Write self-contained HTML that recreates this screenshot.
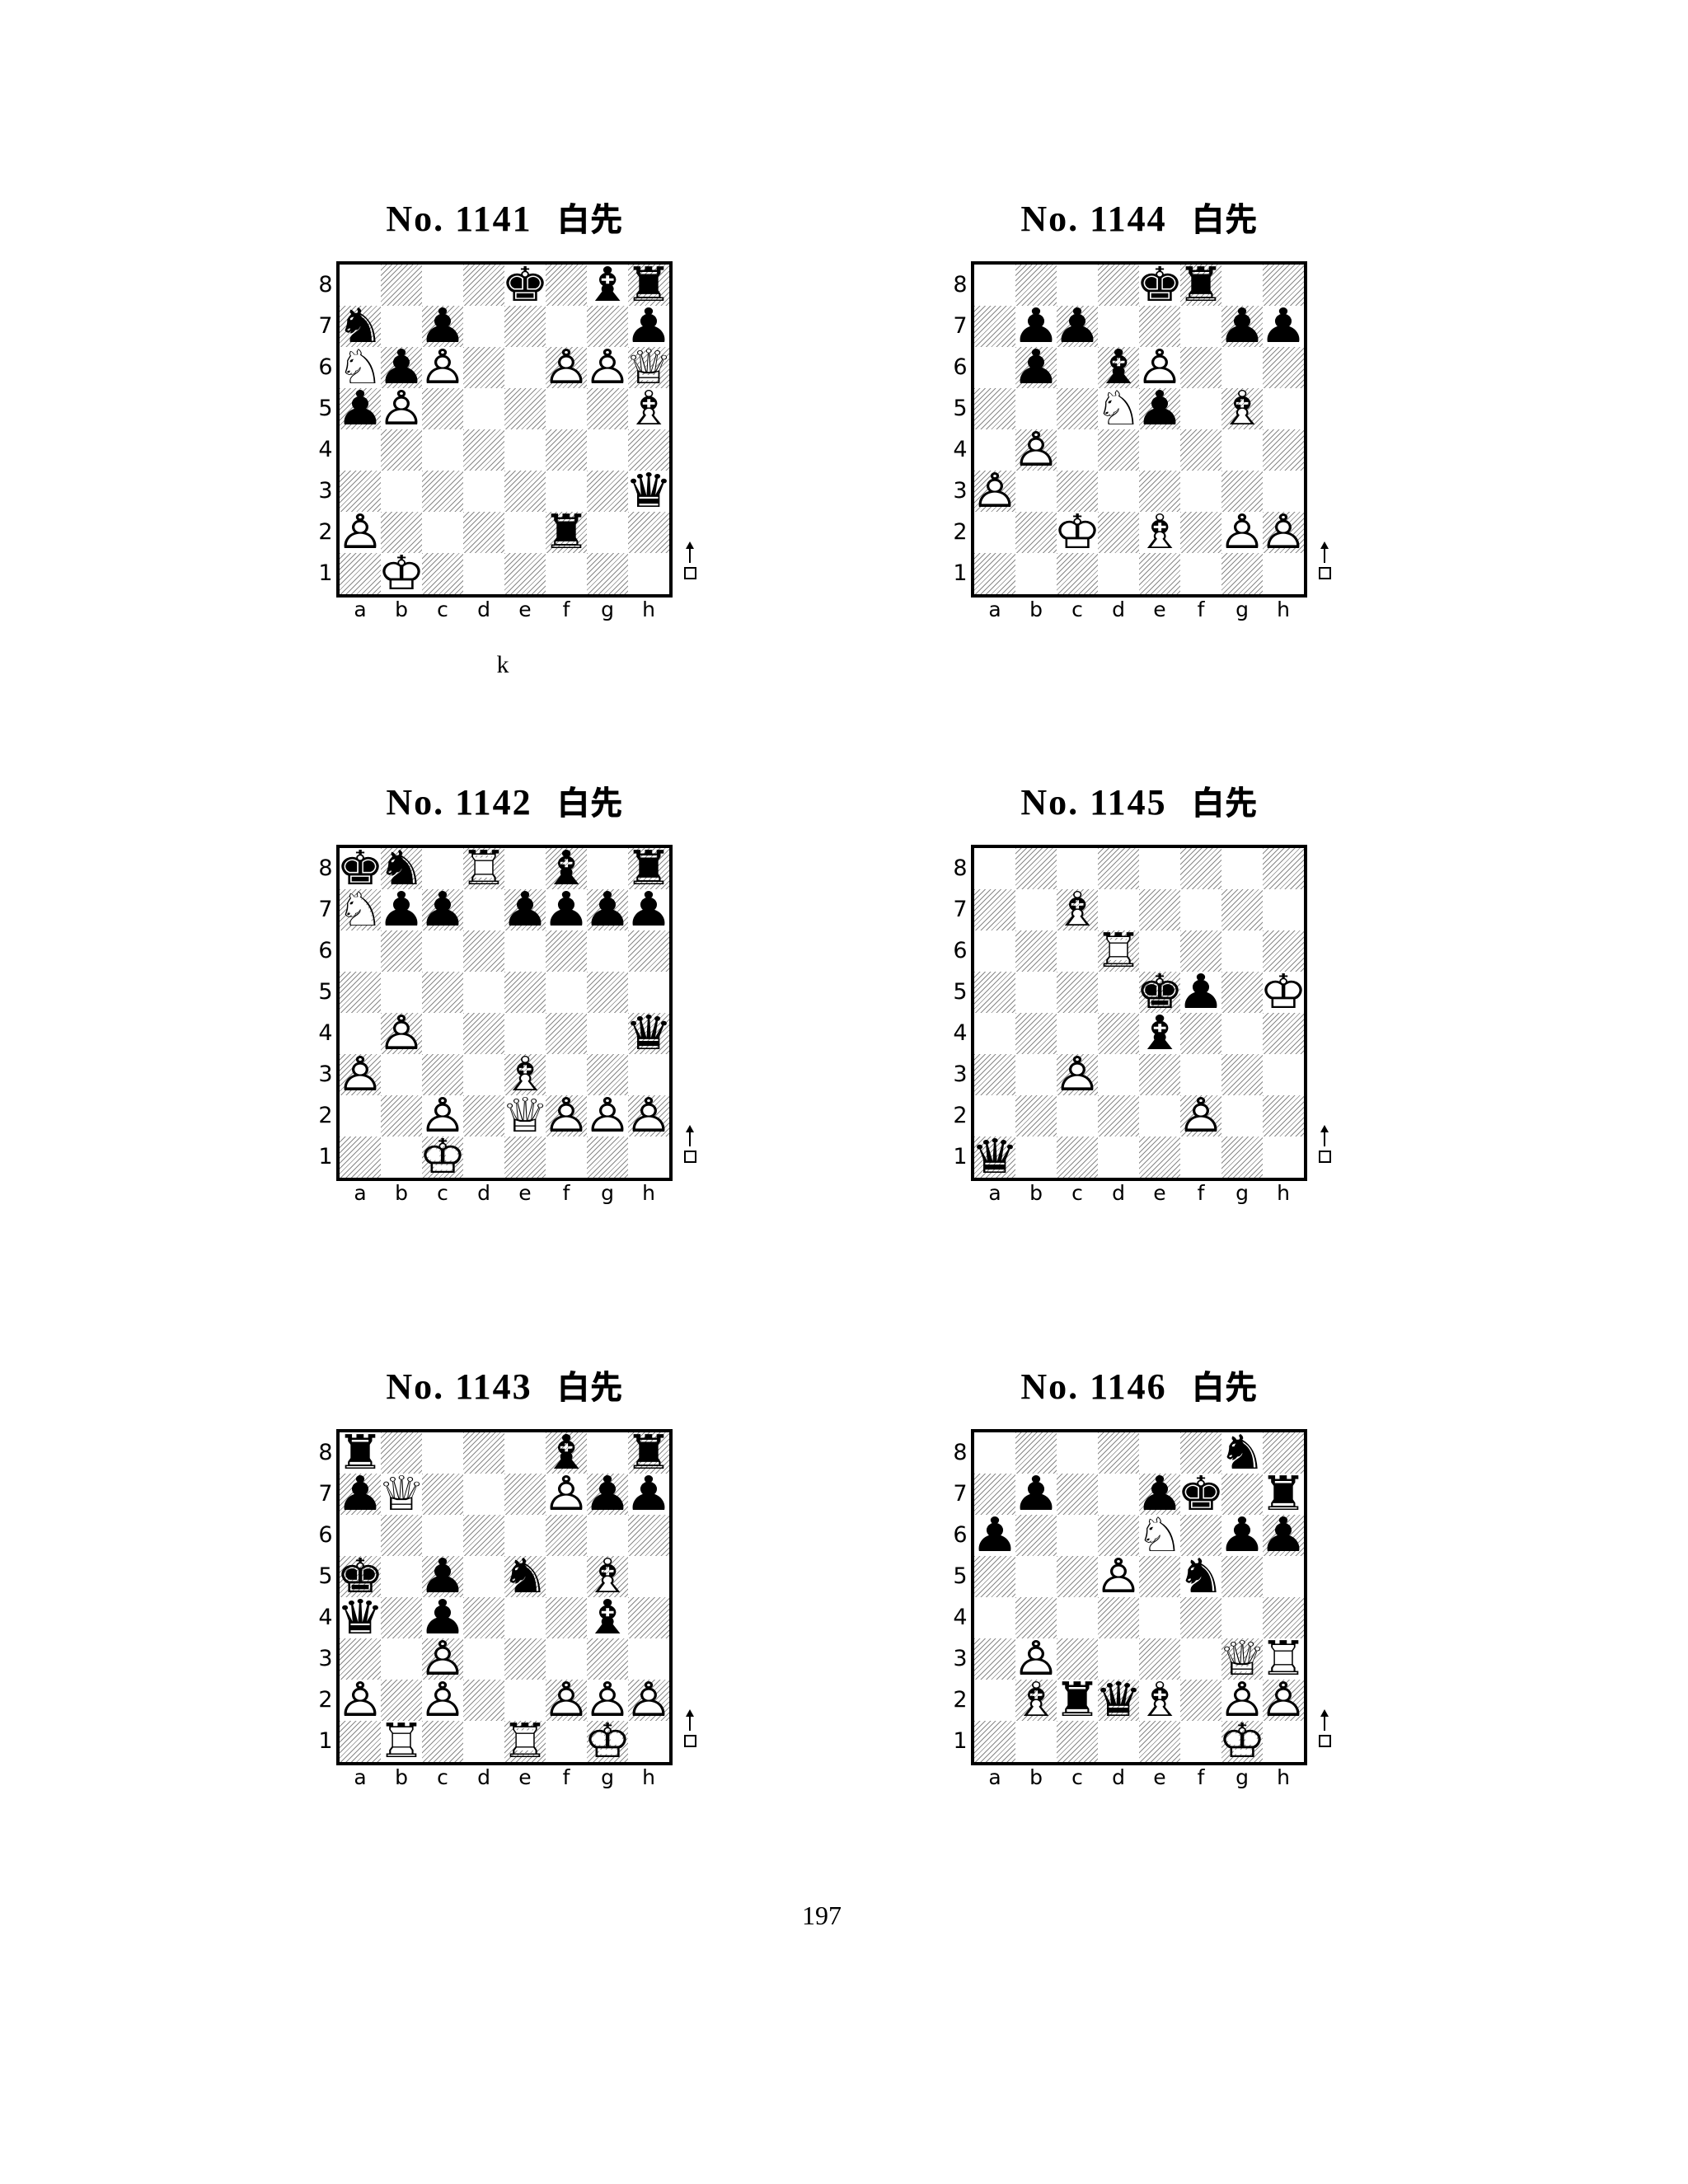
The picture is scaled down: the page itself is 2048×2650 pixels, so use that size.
<!DOCTYPE html>
<html><head><meta charset="utf-8">
<style>
body{margin:0;width:2048px;height:2650px;background:#fff;position:relative;overflow:hidden;font-family:"Liberation Serif",serif}
.t{position:absolute;width:600px;text-align:center;font:bold 44px "Liberation Serif","Noto Serif CJK SC",serif;line-height:48px;letter-spacing:2px}
.t span{font-family:"Noto Sans CJK SC",sans-serif;font-weight:bold;margin-left:30px;font-size:40px;letter-spacing:0}
.b{position:absolute;width:400px;height:400px;border:4px solid #000}
.sq{position:absolute;width:50px;height:50px}
.d{background:repeating-linear-gradient(-45deg,#fff 0 2.2px,#888 2.2px 3.2px,#fff 3.2px 4.5px)}
.p{position:absolute;width:50px;height:50px;text-align:center;line-height:50px;font-size:50px;font-family:"DejaVu Sans",sans-serif;transform:scale(1.3,1.15);transform-origin:50% 55%}
.p .f{position:absolute;left:-10px;right:-10px;top:0;color:#fff}
.p .o{position:absolute;left:-10px;right:-10px;top:0;color:#000}
.r{position:absolute;font:27px "DejaVu Sans","Liberation Sans",sans-serif;width:30px;text-align:center;line-height:50px}
.fl{position:absolute;font:25px "DejaVu Sans","Liberation Sans",sans-serif;width:50px;text-align:center;line-height:30px}
.ar{position:absolute;width:2px;background:#000}
.bx{position:absolute;width:11px;height:11px;border:2px solid #000}
</style></head><body>
<div id="root"></div>
<div style="position:absolute;left:590px;top:790px;width:40px;text-align:center;font-size:30px">k</div>
<div style="position:absolute;left:947px;top:2306px;width:100px;text-align:center;font-size:32px">197</div>
<script>
var boards=[
 {n:"1141",x:408,y:317,p:{e8:"k",g8:"b",h8:"r",a7:"n",c7:"p",h7:"p",a6:"N",b6:"p",c6:"P",f6:"P",g6:"P",h6:"Q",a5:"p",b5:"P",h5:"B",h3:"q",a2:"P",f2:"r",b1:"K"}},
 {n:"1144",x:1178,y:317,p:{e8:"k",f8:"r",b7:"p",c7:"p",g7:"p",h7:"p",b6:"p",d6:"b",e6:"P",d5:"N",e5:"p",g5:"B",b4:"P",a3:"P",c2:"K",e2:"B",g2:"P",h2:"P"}},
 {n:"1142",x:408,y:1025,p:{a8:"k",b8:"n",d8:"R",f8:"b",h8:"r",a7:"N",b7:"p",c7:"p",e7:"p",f7:"p",g7:"p",h7:"p",b4:"P",h4:"q",a3:"P",e3:"B",c2:"P",e2:"Q",f2:"P",g2:"P",h2:"P",c1:"K"}},
 {n:"1145",x:1178,y:1025,p:{c7:"B",d6:"R",e5:"k",f5:"p",h5:"K",e4:"b",c3:"P",f2:"P",a1:"q"}},
 {n:"1143",x:408,y:1734,p:{a8:"r",f8:"b",h8:"r",a7:"p",b7:"Q",f7:"P",g7:"p",h7:"p",a5:"k",c5:"p",e5:"n",g5:"B",a4:"q",c4:"p",g4:"b",c3:"P",a2:"P",c2:"P",f2:"P",g2:"P",h2:"P",b1:"R",e1:"R",g1:"K"}},
 {n:"1146",x:1178,y:1734,p:{g8:"n",b7:"p",e7:"p",f7:"k",h7:"r",a6:"p",e6:"N",g6:"p",h6:"p",d5:"P",f5:"n",b3:"P",g3:"Q",h3:"R",b2:"B",c2:"r",d2:"q",e2:"B",g2:"P",h2:"P",g1:"K"}}
];
var W={K:"♔",Q:"♕",R:"♖",B:"♗",N:"♘",P:"♙"},Bk={k:"♚",q:"♛",r:"♜",b:"♝",n:"♞",p:"♟"};
var h="";
boards.forEach(function(b){
 h+='<div class="t" style="left:'+(b.x+204-300)+'px;top:'+(b.y-78)+'px">No. '+b.n+'<span>白先</span></div>';
 h+='<div class="b" style="left:'+b.x+'px;top:'+b.y+'px">';
 for(var r=0;r<8;r++)for(var c=0;c<8;c++){
  var dark=((r+c)%2==1);
  var sqn="abcdefgh"[c]+(8-r);
  h+='<div class="sq'+(dark?' d':'')+'" style="left:'+(c*50)+'px;top:'+(r*50)+'px"></div>';
  var pc=b.p[sqn];
  if(pc){
   if(W[pc]) h+='<div class="p" style="left:'+(c*50)+'px;top:'+(r*50)+'px"><span class="f">'+Bk[pc.toLowerCase()]+'</span><span class="o">'+W[pc]+'</span></div>';
   else h+='<div class="p" style="left:'+(c*50)+'px;top:'+(r*50)+'px"><span class="o">'+Bk[pc]+'</span></div>';
  }
 }
 h+='</div>';
 for(var r=0;r<8;r++) h+='<div class="r" style="left:'+(b.x-28)+'px;top:'+(b.y+4+r*50)+'px">'+(8-r)+'</div>';
 for(var c=0;c<8;c++) h+='<div class="fl" style="left:'+(b.x+4+c*50)+'px;top:'+(b.y+408)+'px">'+"abcdefgh"[c]+'</div>';
 h+='<div class="ar" style="left:'+(b.x+428)+'px;top:'+(b.y+346)+'px;height:20px"></div>';
 h+='<div style="position:absolute;left:'+(b.x+424)+'px;top:'+(b.y+340)+'px;width:0;height:0;border-left:5px solid transparent;border-right:5px solid transparent;border-bottom:9px solid #000"></div>';
 h+='<div class="bx" style="left:'+(b.x+422)+'px;top:'+(b.y+371)+'px"></div>';
});
document.getElementById("root").innerHTML=h;
</script>
</body></html>
